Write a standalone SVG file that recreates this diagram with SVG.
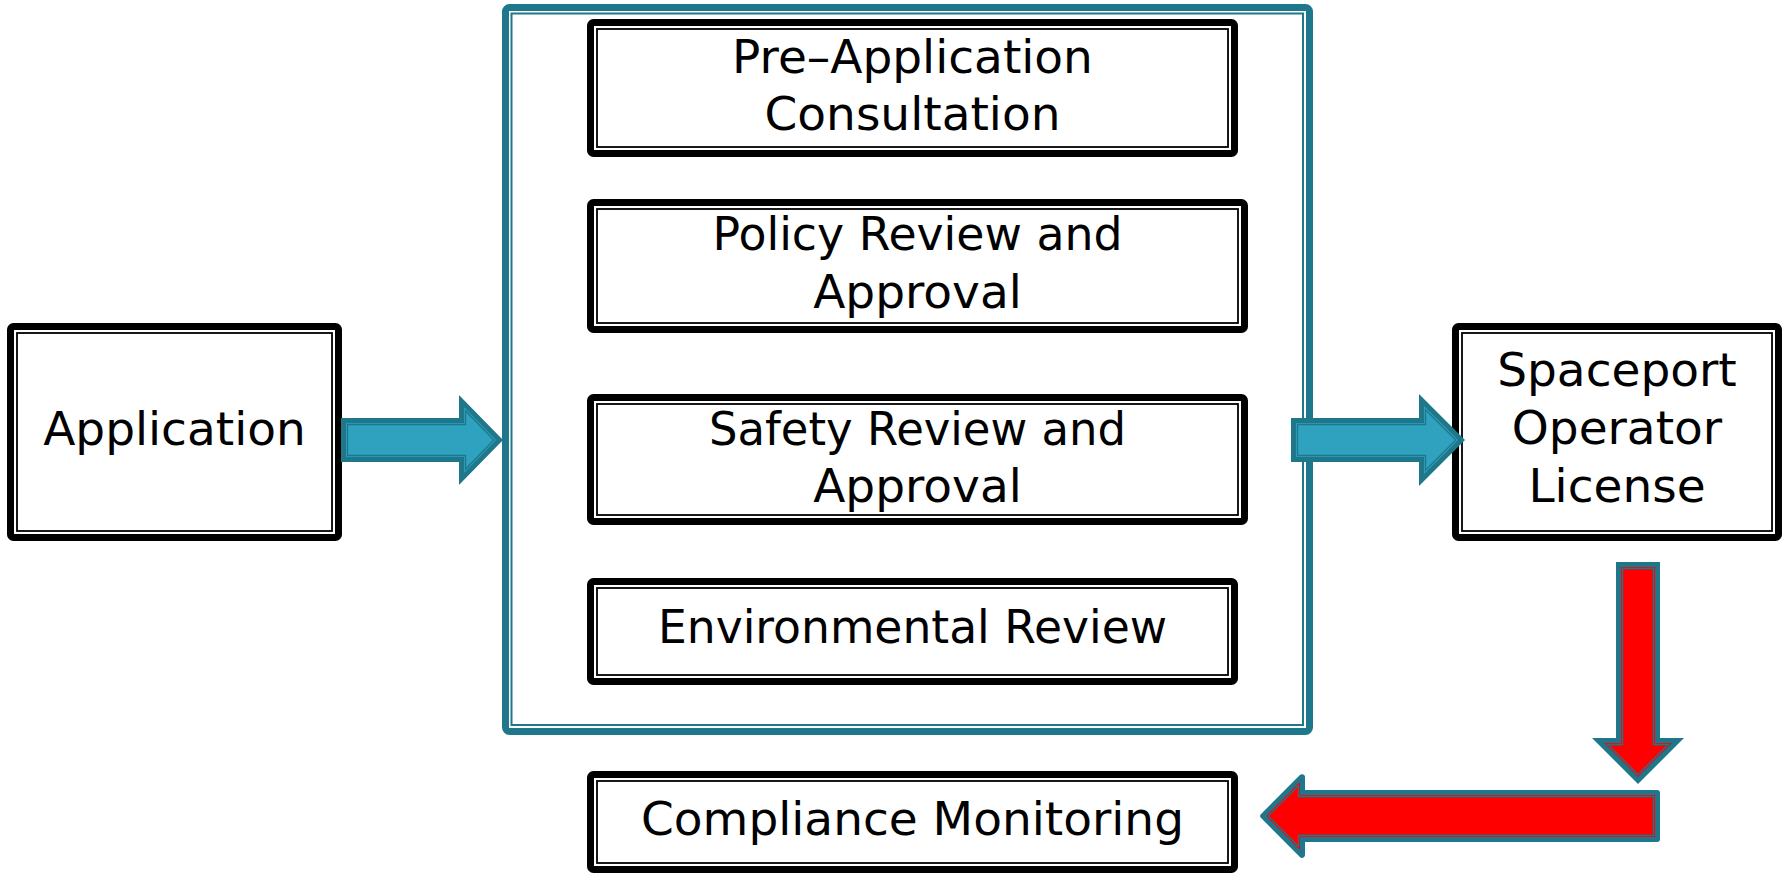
<svg xmlns="http://www.w3.org/2000/svg" width="1788" height="875" viewBox="0 0 1788 875">
<style>
.bg{fill:#ffffff}
.box-outer{fill:#ffffff;stroke:#000000;stroke-width:7}
.box-inner{fill:none;stroke:#000000;stroke-width:1.8}
.cont-outer{fill:#ffffff;stroke:#1f778b;stroke-width:7}
.cont-inner{fill:none;stroke:#1f778b;stroke-width:2}
.lbl{font-family:"DejaVu Sans","Liberation Sans",sans-serif;font-size:47px;fill:#000000;text-anchor:middle}
.a-dark{fill:#1f778b}
.a-blue{fill:#2ea2bf}
.a-red{fill:#ff0000}
.a-line{fill:none;stroke:#1f778b;stroke-width:1.3}
</style>
<rect class="bg" x="0" y="0" width="1788" height="875"/>

<g id="container">
  <rect class="cont-outer" x="505.5" y="7.5" width="804" height="724" rx="4"/>
  <rect class="cont-inner" x="511.5" y="13.5" width="791.5" height="711.5"/>
</g>

<g id="application">
  <rect class="box-outer" x="10.5" y="326.5" width="328" height="211" rx="3"/>
  <rect class="box-inner" x="17" y="333" width="315" height="198"/>
  <text class="lbl" x="174.5" y="445">Application</text>
</g>

<g id="pre-application">
  <rect class="box-outer" x="590.5" y="22.5" width="644" height="131" rx="3"/>
  <rect class="box-inner" x="597" y="29" width="631" height="118"/>
  <text class="lbl" x="912.5" y="73">Pre–Application</text>
  <text class="lbl" x="912.5" y="130">Consultation</text>
</g>

<g id="policy-review">
  <rect class="box-outer" x="590.5" y="202.5" width="654" height="127" rx="3"/>
  <rect class="box-inner" x="597" y="209" width="641" height="114"/>
  <text class="lbl" x="917.5" y="250" textLength="410" lengthAdjust="spacingAndGlyphs">Policy Review and</text>
  <text class="lbl" x="917.5" y="308">Approval</text>
</g>

<g id="safety-review">
  <rect class="box-outer" x="590.5" y="397.5" width="654" height="124" rx="3"/>
  <rect class="box-inner" x="597" y="404" width="641" height="111"/>
  <text class="lbl" x="917.5" y="445" textLength="417" lengthAdjust="spacingAndGlyphs">Safety Review and</text>
  <text class="lbl" x="917.5" y="502">Approval</text>
</g>

<g id="environmental-review">
  <rect class="box-outer" x="590.5" y="581.5" width="644" height="100" rx="3"/>
  <rect class="box-inner" x="597" y="588" width="631" height="87"/>
  <text class="lbl" x="912.5" y="643" textLength="509" lengthAdjust="spacingAndGlyphs">Environmental Review</text>
</g>

<g id="spaceport-license">
  <rect class="box-outer" x="1455.5" y="326.5" width="323" height="211" rx="3"/>
  <rect class="box-inner" x="1462" y="333" width="310" height="198"/>
  <text class="lbl" x="1617" y="386">Spaceport</text>
  <text class="lbl" x="1617" y="444">Operator</text>
  <text class="lbl" x="1617" y="502">License</text>
</g>

<g id="compliance-monitoring">
  <rect class="box-outer" x="590.5" y="774.5" width="644" height="95" rx="3"/>
  <rect class="box-inner" x="597" y="781" width="631" height="82"/>
  <text class="lbl" x="912.5" y="835">Compliance Monitoring</text>
</g>

<g id="connectors">
  <g id="arrow-app-to-review">
    <polygon class="a-dark" points="341,418 459,418 459,395 503,440 459,485 459,462 341,462"/>
    <polygon class="a-blue" points="346,423 464,423 464,407 496,440 464,473 464,457 346,457"/>
    <polygon class="a-line" points="347.5,424.5 465.5,424.5 465.5,410.7 493.8,440 465.5,469.3 465.5,455.5 347.5,455.5"/>
  </g>
  <g id="arrow-review-to-license">
    <polygon class="a-dark" points="1291,418 1419,418 1419,394 1465,440 1419,486 1419,462 1291,462"/>
    <polygon class="a-blue" points="1296,423 1424,423 1424,406 1458,440 1424,474 1424,457 1296,457"/>
    <polygon class="a-line" points="1297.5,424.5 1425.5,424.5 1425.5,409.7 1455.8,440 1425.5,470.3 1425.5,455.5 1297.5,455.5"/>
  </g>
  <g id="arrow-license-down">
    <polygon class="a-dark" points="1616,562 1660,562 1660,738 1684,738 1638,784 1592,738 1616,738"/>
    <polygon class="a-red" points="1621,567 1655,567 1655,743 1671.9,743 1638,776.9 1604.1,743 1621,743"/>
    <polygon class="a-line" points="1622.5,568.5 1653.5,568.5 1653.5,744.5 1668.3,744.5 1638,774.8 1607.7,744.5 1622.5,744.5"/>
  </g>
  <g id="arrow-to-compliance">
    <polygon class="a-dark" stroke="#1f778b" stroke-width="6" stroke-linejoin="round" points="1657,793 1302,793 1302,777.2 1263.2,816 1302,854.8 1302,839 1657,839"/>
    <polygon class="a-red" points="1655,795 1300,795 1300,782.1 1266.1,816 1300,849.9 1300,837 1655,837"/>
    <polygon class="a-line" stroke-linejoin="round" points="1653.5,796.5 1298.5,796.5 1298.5,785.7 1268.2,816 1298.5,846.3 1298.5,835.5 1653.5,835.5"/>
  </g>
</g>
</svg>
